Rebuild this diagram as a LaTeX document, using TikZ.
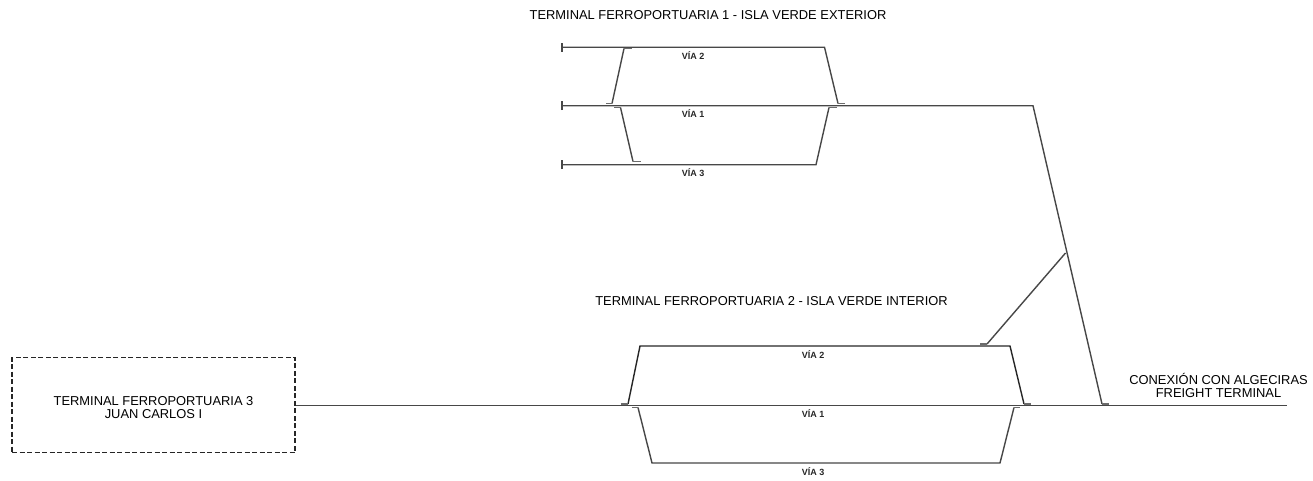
\documentclass[tikz,border=0pt]{standalone}
\usepackage{fontspec}
\setmainfont{Liberation Sans}
\definecolor{trk}{gray}{0.28}
\tikzset{
  x=1pt,y=-1pt,
  track/.style={draw=trk,line width=1.4pt,line join=miter},
  stub/.style={draw=trk!80,line width=1.3pt},
  title/.style={inner sep=0pt,font=\fontsize{12.9}{13}\selectfont,text=black,align=center},
  via/.style={inner sep=0pt,font=\bfseries\fontsize{9}{9}\selectfont,text=black!85},
}
\begin{document}
\begin{tikzpicture}
\useasboundingbox (0,0) rectangle (1313,480);
% labels
\node[title] (t1) at (708,15) {TERMINAL FERROPORTUARIA 1 - ISLA VERDE EXTERIOR};
\node[title] (t2) at (771.5,301) {TERMINAL FERROPORTUARIA 2 - ISLA VERDE INTERIOR};
\node[title,draw=black!85,dashed,line width=1.3pt,minimum width=283pt,minimum height=95pt,dash pattern=on 5pt off 2.5pt] (t3) at (153.5,405) {\rule{0pt}{14pt}TERMINAL FERROPORTUARIA 3\\JUAN CARLOS I};
\node[title] (con) at (1218.5,385) {CONEXIÓN CON ALGECIRAS\\FREIGHT TERMINAL};
\node[via] (a2) at (693,55.5) {VÍA 2};
\node[via] (a1) at (693,113.5) {VÍA 1};
\node[via] (a3) at (693,173) {VÍA 3};
\node[via] (b2) at (813,354.5) {VÍA 2};
\node[via] (b1) at (813,413.5) {VÍA 1};
\node[via] (b3) at (813,472) {VÍA 3};
% coordinates: upper terminal
\coordinate (u2s) at (562,47.2);
\coordinate (u1s) at (562,105.7);
\coordinate (u3s) at (562,164.7);
\coordinate (u2e) at (824.5,47.2);
\coordinate (u3e) at (816,164.7);
\coordinate (u1e) at (1033,105.7);
\coordinate (uA) at (612,103.5);
\coordinate (uB) at (624,48.5);
\coordinate (uC) at (838,103.5);
\coordinate (uD) at (620.5,107.5);
\coordinate (uE) at (633,161.5);
\coordinate (uF) at (829,107.5);
% lower terminal
\coordinate (m1) at (1102,404);
\coordinate (j) at (1065.5,253);
\coordinate (bk) at (987,344);
\coordinate (l2s) at (640,346);
\coordinate (l2e) at (1010,346);
\coordinate (l3s) at (652,463);
\coordinate (l3e) at (1000,463);
\coordinate (lA) at (628,404);
\coordinate (lB) at (1024,404);
\coordinate (lC) at (638,407.5);
\coordinate (lD) at (1014,407.5);
\coordinate (mainE) at (1287,405.7);
% upper tracks
\draw[track] (u2s) -- (u2e) -- (uC);
\draw[track] (u1s) -- (u1e) -- (m1);
\draw[track] (u3s) -- (u3e) -- (uF);
\draw[track] (uA) -- (uB);
\draw[track] (uD) -- (uE);
\foreach \p in {u2s,u1s,u3s}{
  \draw[track] ([yshift=-4.5pt]\p) -- ([yshift=4.5pt]\p);
}
% lower tracks
\draw[track,draw=black!85] (lA) -- (l2s) -- (l2e) -- (lB);
\draw[track] (lC) -- (l3s) -- (l3e) -- (lD);
\draw[track] (t3.east |- mainE) -- (mainE);
\draw[track] (j) -- (bk);
% switch stubs
\draw[stub] (uB) -- ++(8,0);
\draw[stub] (uA) -- ++(-6,0);
\draw[stub] (uC) -- ++(7,0);
\draw[stub] (uD) -- ++(-7,0);
\draw[stub] (uE) -- ++(8,0);
\draw[stub] (uF) -- ++(8,0);
\draw[stub] (lA) -- ++(-7,0);
\draw[stub] (lB) -- ++(7,0);
\draw[stub] (lC) -- ++(-6,0);
\draw[stub] (lD) -- ++(6,0);
\draw[stub] (bk) -- ++(-7,0);
\draw[stub] (m1) -- ++(7,0);
\end{tikzpicture}
\end{document}
